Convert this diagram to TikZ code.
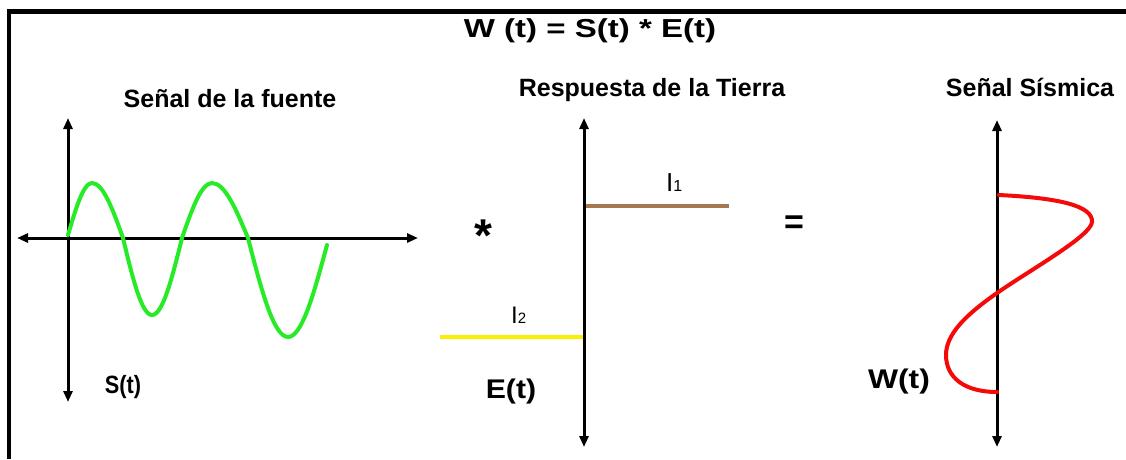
\documentclass[tikz,border=0pt]{standalone}
\usepackage{graphicx}
\usepackage{fontspec}
\setmainfont{Liberation Sans}
\usetikzlibrary{arrows.meta}
\definecolor{sgreen}{RGB}{40,235,40}
\definecolor{ebrown}{RGB}{165,120,80}
\definecolor{eyellow}{RGB}{250,240,0}
\definecolor{wred}{RGB}{245,10,10}
\begin{document}
\begin{tikzpicture}[x=1pt,y=-1pt,
  axis/.style={line width=3pt, black, {Triangle[length=11pt,width=9pt]}-{Triangle[length=11pt,width=9pt]}},
  wave/.style={line width=4pt, line cap=round},
  heading/.style={font=\fontsize{25}{30}\selectfont\bfseries, anchor=base, inner sep=0pt},
  lbl/.style={font=\fontsize{27}{32}\selectfont\bfseries, anchor=base, inner sep=0pt},
  sym/.style={font=\fontsize{26}{30}\selectfont, anchor=base west, inner sep=0pt},
]
\useasboundingbox (0,0) rectangle (1126,459);
\fill[white] (0,0) rectangle (1126,459);
% frame (top and left edges)
\coordinate (fbl) at (8.8,459);
\coordinate (ftl) at (8.8,11.7);
\coordinate (ftr) at (1126,11.7);
\draw[line width=4.5pt] (fbl) -- (ftl) -- (ftr);

% title
\node[anchor=base, inner sep=0pt, font=\fontsize{26}{30}\selectfont\bfseries] (title) at (590,37) {\scalebox{1.27}[1]{W (t) = S(t) * E(t)}};

% ---------- source signal ----------
\node[heading] (hsrc) at (230,107) {Señal de la fuente};
\coordinate (stop) at (68,118);
\coordinate (sbot) at (68,402);
\coordinate (sleft) at (17,238);
\coordinate (sright) at (418,238);
\draw[axis] (sbot) -- (stop);
\draw[axis] (sleft) -- (sright);
\draw[wave, sgreen] (68,235) sin (92,183) cos (123,238) sin (152,315) cos (182,238)
  sin (212,183) cos (248,238) sin (288,337) cos (327,245);
\node[anchor=base, inner sep=0pt, font=\fontsize{25}{30}\selectfont\bfseries] (slab) at (123,393) {\scalebox{0.87}[1]{S(t)}};

% ---------- earth response ----------
\node[heading] (hearth) at (652,96) {Respuesta de la Tierra};
\coordinate (etop) at (584,118);
\coordinate (ebot) at (584,447);
\coordinate (e1a) at (584,206);
\coordinate (e1b) at (729,206);
\coordinate (e2a) at (440,337);
\coordinate (e2b) at (584,337);
\draw[line width=4pt, eyellow] (e2a) -- (e2b);
\draw[line width=4pt, ebrown] (e1a) -- (e1b);
\draw[axis] (ebot) -- (etop);
\node[sym] (i1) at (666,191) {I\fontsize{16}{18}\selectfont 1};
\node[sym, font=\fontsize{24}{28}\selectfont] (i2) at (511,323) {I\fontsize{15}{17}\selectfont 2};
\node[lbl] (elab) at (511,398) {\scalebox{1.12}[1]{E(t)}};
\node[inner sep=0pt, font=\fontsize{46}{50}\selectfont\bfseries] (star) at (483,236) {*};
\node[inner sep=0pt, font=\fontsize{34}{38}\selectfont\bfseries] (eq) at (794,225) {=};

% ---------- seismic signal ----------
\node[heading] (hseis) at (1030,96) {Señal Sísmica};
\coordinate (wtop) at (997,120);
\coordinate (wbot) at (997,447);
\draw[axis] (wbot) -- (wtop);
\draw[wave, wred] (999,195) .. controls (1060,198) and (1093,206) .. (1092,222)
  .. controls (1091,236) and (1030,270) .. (997,293)
  .. controls (964,316) and (946,335) .. (946,355)
  .. controls (946,378) and (965,392) .. (997,392);
\node[lbl] (wlab) at (899,388) {\scalebox{1.18}[1]{W(t)}};
\end{tikzpicture}
\end{document}
